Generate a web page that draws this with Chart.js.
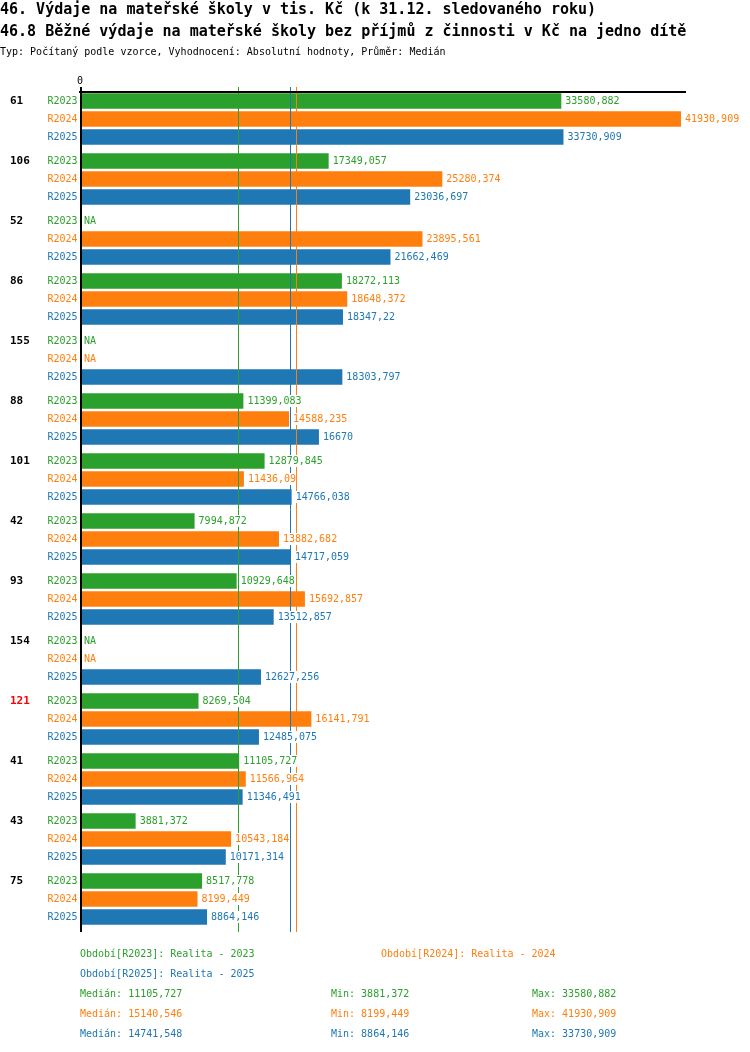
<!DOCTYPE html>
<html>
<head>
<meta charset="utf-8">
<script src="https://cdn.jsdelivr.net/npm/chart.js@4"></script>
<style>
  html, body { margin: 0; padding: 0; background: #fff; }
  canvas { display: block; }
</style>
</head>
<body>
<canvas id="chart" width="750" height="1052"></canvas>
<script>
const categories = ['61', '106', '52', '86', '155', '88', '101', '42', '93', '154', '121', '41', '43', '75'];
const highlightedCategory = '121';
const seriesNames = ['R2023', 'R2024', 'R2025'];
const seriesTitles = ['Realita - 2023', 'Realita - 2024', 'Realita - 2025'];
const seriesColors = ['#2ca02c', '#ff7f0e', '#1f77b4'];
const r2023 = [33580.882, 17349.057, null, 18272.113, null, 11399.083, 12879.845, 7994.872, 10929.648, null, 8269.504, 11105.727, 3881.372, 8517.778];
const r2024 = [41930.909, 25280.374, 23895.561, 18648.372, null, 14588.235, 11436.09, 13882.682, 15692.857, null, 16141.791, 11566.964, 10543.184, 8199.449];
const r2025 = [33730.909, 23036.697, 21662.469, 18347.22, 18303.797, 16670, 14766.038, 14717.059, 13512.857, 12627.256, 12485.075, 11346.491, 10171.314, 8864.146];
const medians = [11105.727, 15140.546, 14741.548];
const mins = [3881.372, 8199.449, 8864.146];
const maxs = [33580.882, 41930.909, 33730.909];
const xTicks = [0];

const titleLines = [
    '46. Výdaje na mateřské školy v tis. Kč (k 31.12. sledovaného roku)',
    '46.8 Běžné výdaje na mateřské školy bez příjmů z činnosti v Kč na jedno dítě',
];
const subtitle = 'Typ: Počítaný podle vzorce, Vyhodnocení: Absolutní hodnoty, Průměr: Medián';

const allSeries = [r2023, r2024, r2025];
const mono = "'DejaVu Sans Mono', 'Liberation Mono', monospace";
const fmt = (v) => String(v).replace('.', ',');

const decorPlugin = {
    id: 'decor',
    afterDatasetsDraw(chart) {
        const { ctx, chartArea, scales } = chart;
        const xScale = scales.x;
        const x0 = xScale.getPixelForValue(0);
        const top = chartArea.top + 3;
        const bottom = chartArea.bottom + 3;

        ctx.save();

        // titles
        ctx.fillStyle = '#000';
        ctx.textAlign = 'left';
        ctx.textBaseline = 'alphabetic';
        ctx.font = `bold 15px ${mono}`;
        ctx.fillText(titleLines[0], 0, 14);
        ctx.fillText(titleLines[1], 0, 35.5);
        ctx.font = `10px ${mono}`;
        ctx.fillText(subtitle, 0, 55);

        // median lines
        medians.forEach((m, i) => {
            const x = Math.round(xScale.getPixelForValue(m)) - 0.5;
            ctx.strokeStyle = seriesColors[i];
            ctx.lineWidth = 1;
            ctx.beginPath();
            ctx.moveTo(x, top - 5);
            ctx.lineTo(x, bottom);
            ctx.stroke();
        });

        // axes
        ctx.fillStyle = '#000';
        ctx.fillRect(x0 - 1, top - 1, chartArea.right - x0 + 1, 2);
        ctx.fillRect(x0, top - 5, 2, bottom - top + 5);
        ctx.font = `10px ${mono}`;
        ctx.textAlign = 'center';
        ctx.textBaseline = 'middle';
        xTicks.forEach((t) => ctx.fillText(String(t), xScale.getPixelForValue(t), top - 11));

        // value labels, series labels, category labels
        ctx.textBaseline = 'middle';
        allSeries.forEach((arr, di) => {
            const meta = chart.getDatasetMeta(di);
            meta.data.forEach((bar, idx) => {
                const v = arr[idx];
                const y = bar.y;
                ctx.font = `10px ${mono}`;
                ctx.fillStyle = seriesColors[di];
                ctx.textAlign = 'right';
                ctx.fillText(seriesNames[di], x0 - 2.5, y);

                const text = v === null ? 'NA' : fmt(v);
                const tx = (v === null ? x0 : bar.x) + 4;
                const w = ctx.measureText(text).width;
                ctx.fillStyle = '#fff';
                ctx.fillRect(tx, y - 6, w, 12);
                ctx.fillStyle = seriesColors[di];
                ctx.textAlign = 'left';
                ctx.fillText(text, tx, y);

                if (di === 0) {
                    ctx.font = `bold 11px ${mono}`;
                    ctx.fillStyle = categories[idx] === highlightedCategory ? '#ff0000' : '#000';
                    ctx.fillText(categories[idx], 10, y);
                }
            });
        });

        // bottom legend
        ctx.font = `10px ${mono}`;
        ctx.textAlign = 'left';
        ctx.textBaseline = 'middle';
        const legendY = bottom + 22;
        const legendPos = [[80, legendY], [381, legendY], [80, legendY + 20]];
        seriesNames.forEach((name, i) => {
            ctx.fillStyle = seriesColors[i];
            ctx.fillText(`Období[${name}]: ${seriesTitles[i]}`, legendPos[i][0], legendPos[i][1]);
        });
        seriesNames.forEach((name, i) => {
            const y = legendY + 40 + i * 20;
            ctx.fillStyle = seriesColors[i];
            ctx.fillText(`Medián: ${fmt(medians[i])}`, 80, y);
            ctx.fillText(`Min: ${fmt(mins[i])}`, 331, y);
            ctx.fillText(`Max: ${fmt(maxs[i])}`, 532, y);
        });

        ctx.restore();
    },
};

new Chart(document.getElementById('chart'), {
    type: 'bar',
    data: {
        labels: categories,
        datasets: allSeries.map((arr, i) => ({
            label: seriesNames[i],
            data: arr,
            backgroundColor: seriesColors[i],
            borderWidth: 0,
            categoryPercentage: 0.9,
            barPercentage: 0.86,
        })),
    },
    options: {
        indexAxis: 'y',
        responsive: false,
        animation: false,
        devicePixelRatio: 1,
        events: [],
        layout: {
            padding: { left: 80, right: 64, top: 89, bottom: 123 },
        },
        scales: {
            x: { display: false, min: 0, max: 42280 },
            y: { display: false },
        },
        plugins: {
            legend: { display: false },
            tooltip: { enabled: false },
        },
    },
    plugins: [decorPlugin],
});
</script>
</body>
</html>
